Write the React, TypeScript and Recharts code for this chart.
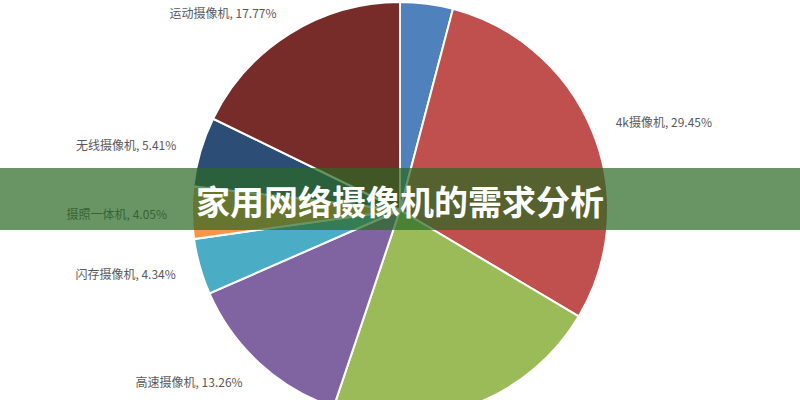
import { PieChart, Pie, Cell } from "recharts"

// slice order: clockwise from 12 o'clock
const names = ["其他", "4k摄像机", "网络摄像机", "高速摄像机", "闪存摄像机", "摄照一体机", "无线摄像机", "运动摄像机"]
const shares = [4.1, 29.45, 21.62, 13.26, 4.34, 4.05, 5.41, 17.77]
const colors = ["#4F81BD", "#C0504D", "#9BBB59", "#8064A2", "#4BACC6", "#F79646", "#2C4D75", "#772C2A"]

const title = "家用网络摄像机的需求分析"

const data = names.map((name, i) => ({ name, value: shares[i] }))

const RAD = Math.PI / 180

function renderLabel(props: any) {
  const { cx, cy, midAngle, outerRadius, name, value } = props
  const r = outerRadius + 25
  const x = cx + r * Math.cos(-midAngle * RAD)
  const y = cy + r * Math.sin(-midAngle * RAD)
  // labels of the top and bottom slices fall outside the picture
  if (y < 6 || y > 394) return null
  const anchor = x > cx ? "start" : "end"
  return (
    <text
      x={x}
      y={y}
      textAnchor={anchor}
      dominantBaseline="central"
      fill="#595959"
      fontSize={12}
      fontFamily="'Noto Sans CJK SC', 'Noto Sans', sans-serif"
    >
      {`${name}, ${value.toFixed(2)}%`}
    </text>
  )
}

export default function App() {
  return (
    <div style={{ position: "absolute", left: 0, top: 0, width: 800, height: 400, background: "#fff", overflow: "hidden" }}>
      <PieChart width={800} height={400} margin={{ top: 0, right: 0, bottom: 0, left: 0 }}>
        <Pie
          data={data}
          dataKey="value"
          nameKey="name"
          cx={400}
          cy={210}
          outerRadius={208}
          startAngle={90}
          endAngle={-270}
          stroke="#fff"
          strokeWidth={2}
          label={renderLabel}
          labelLine={false}
          isAnimationActive={false}
        >
          {data.map((d, i) => (
            <Cell key={d.name} fill={colors[i]} />
          ))}
        </Pie>
      </PieChart>
      <div
        style={{
          position: "absolute",
          left: 0,
          top: 168,
          width: 800,
          height: 62,
          background: "rgba(42, 104, 36, 0.7)",
          display: "flex",
          alignItems: "center",
          justifyContent: "center",
          color: "#fff",
          fontSize: 34,
          fontWeight: 700,
          fontFamily: "'Noto Sans CJK SC', sans-serif",
          lineHeight: 1,
          paddingTop: 4,
          boxSizing: "border-box",
        }}
      >
        {title}
      </div>
    </div>
  )
}
